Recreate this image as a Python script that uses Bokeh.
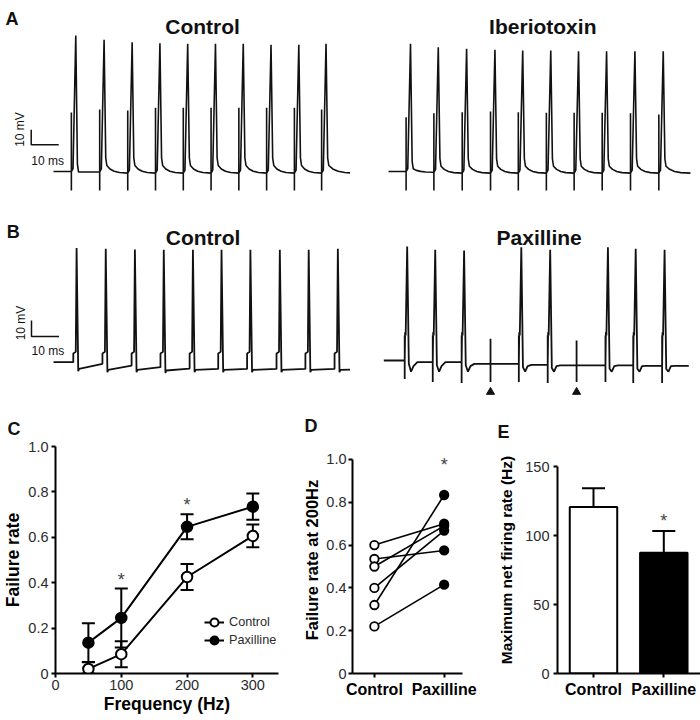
import numpy as np
from bokeh.plotting import figure
from bokeh.layouts import column, row
from bokeh.models import (Label, LabelSet, FixedTicker, ColumnDataSource, Whisker,
                          TeeHead, Legend, LegendItem, Range1d)
from bokeh.embed import file_html
from bokeh.resources import INLINE
from bokeh.core.properties import value

FONT = "Liberation Sans"
INK = "#111111"
TICK_INK = "#2b2b2b"

# ======================= DATA =======================
# Panel A: 100 Hz stimulation, times in ms, potentials in mV
a_ctrl_stim = [6.5, 16.8, 27.0, 37.1, 47.2, 57.3, 67.4, 77.5, 87.6, 97.5]
a_ctrl_peak = [30.7, 27.8, 26.2, 25.5, 25.1, 25.1, 25.1, 24.5, 24.5, 25.1]
a_ctrl_art_top = [-20.7, -18.7, -19.3, -17.5, -17.5, -17.5, -17.5, -17.5, -17.5, -18.7]
a_ctrl_art_bot = [-72.7, -72.7, -72.7, -72.7, -72.7, -72.7, -72.7, -72.7, -72.7, -72.7]
a_ctrl_adp = [-60.3, -56.0, -56.0, -56.0, -56.0, -56.0, -56.0, -56.0, -56.0, -56.0]
a_ctrl_rest = [-60.3, -61.1, -61.1, -61.1, -61.1, -61.1, -61.1, -61.1, -61.1, -61.1]
a_ctrl_v0 = -60.0
a_ctrl_end = 109.8

a_ibtx_stim = [6.4, 16.5, 26.8, 37.1, 47.2, 57.4, 67.5, 77.7, 88.0, 98.3]
a_ibtx_peak = [25.1, 22.9, 21.8, 21.1, 20.7, 20.7, 20.2, 20.2, 20.2, 20.2]
a_ibtx_art_top = [-23.8, -21.1, -20.5, -20.0, -20.5, -20.9, -20.9, -20.9, -21.1, -22.0]
a_ibtx_art_bot = [-72.7, -72.7, -72.7, -72.7, -72.7, -72.7, -72.7, -72.7, -72.7, -72.7]
a_ibtx_adp = [-58.2, -56.5, -56.5, -56.5, -56.5, -56.5, -56.5, -56.5, -56.5, -56.5]
a_ibtx_rest = [-60.5, -61.1, -61.1, -61.1, -61.1, -61.1, -61.1, -61.1, -61.1, -61.1]
a_ibtx_v0 = -60.0
a_ibtx_end = 109.8

# shape of the after-depolarisation decay (fraction of interval, fraction of amplitude)
a_decay_t = [0.15, 0.35, 0.6, 1.0]
a_decay_v = [0.55, 0.25, 0.08, 0.0]

# Panel B control: AP times (ms), peaks, pre-stimulus and post-AP levels (mV)
b_ctrl_ap = [8.4, 19.0, 29.6, 40.1, 50.7, 61.1, 71.6, 82.3, 92.8, 103.4]
b_ctrl_peak = [11.3, 10.9, 10.4, 10.3, 10.3, 10.3, 10.3, 10.3, 10.3, 10.9]
b_ctrl_pre = [-60.0, -61.0, -62.1, -63.1, -64.0, -64.2, -64.2, -64.2, -64.2, -64.2]
b_ctrl_post = [-64.1, -64.8, -64.8, -65.2, -64.8, -64.8, -64.8, -64.8, -64.8, -64.8]
b_ctrl_bump = -54.5
b_ctrl_v0 = -60.0
b_ctrl_final = -64.5
b_ctrl_end = 109.8

# Panel B paxilline: stimulus times, success (1) / failure (0)
b_pax_stim = [7.6, 17.8, 28.3, 38.8, 49.1, 59.6, 70.1, 80.6, 90.7, 101.2]
b_pax_fired = [1, 1, 1, 0, 1, 1, 0, 1, 1, 1]
b_pax_peak = [11.3, 9.2, 8.8, None, 10.8, 9.2, None, 10.8, 9.8, 9.2]
b_pax_art_top = [-44.4, -44.4, -44.4, -46.4, -44.4, -44.4, -47.5, -44.4, -44.4, -44.4]
b_pax_art_bot = [-71.5, -73.5, -74.0, -73.5, -73.5, -74.0, -73.5, -73.5, -74.0, -74.0]
b_pax_rest = [-61.0, -61.0, -62.1, -62.1, -62.7, -63.0, -63.1, -63.1, -63.3, -63.3]
b_pax_dip = -67.0
b_pax_v0 = -60.0
b_pax_end = 110.9
b_pax_arrow_mv = -79.7

scale_ms = 10
scale_mv = 10

# Panel C: failure rate vs frequency
c_freq = [50, 100, 200, 300]
c_ctrl_mean = [0.02, 0.085, 0.425, 0.606]
c_ctrl_err = [0.03, 0.057, 0.057, 0.05]
c_pax_mean = [0.136, 0.245, 0.646, 0.735]
c_pax_err = [0.085, 0.13, 0.055, 0.058]
c_sig_x = [100, 200]
c_sig_y = [0.41, 0.744]
c_xticks = [0, 100, 200, 300]
c_yticks = [0, 0.2, 0.4, 0.6, 0.8, 1.0]
c_ytick_labels = ["0", "0.2", "0.4", "0.6", "0.8", "1.0"]

# Panel D: paired failure rate at 200 Hz
d_groups = ["Control", "Paxilline"]
d_ctrl = [0.60, 0.535, 0.50, 0.40, 0.32, 0.22]
d_pax = [0.70, 0.575, 0.69, 0.668, 0.834, 0.415]
d_sig_y = 0.972

# Panel E: maximum net firing rate
e_groups = ["Control", "Paxilline"]
e_mean = [120.7, 87.5]
e_sem = [13.6, 15.8]
e_sig_y = 110.3
e_yticks = [0, 50, 100, 150]


# ======================= HELPERS =======================
def trace_fig(w, h, xr, yr):
    p = figure(width=w, height=h, x_range=Range1d(*xr), y_range=Range1d(*yr),
               output_backend="svg", toolbar_location=None,
               x_axis_type=None, y_axis_type=None, min_border=0)
    p.outline_line_color = None
    p.grid.visible = False
    return p


def add_text(p, x, y, text, size, bold=False, align="left", baseline="alphabetic",
             angle=0.0, color=INK):
    p.add_layout(Label(x=x, y=y, text=text, text_font=FONT, text_font_size=f"{size}px",
                       text_font_style="bold" if bold else "normal", text_align=align,
                       text_baseline=baseline, angle=angle, text_color=color))


def scale_bar(p, x0, y0):
    p.line([x0, x0, x0 + scale_ms], [y0 + scale_mv, y0, y0], line_color=INK, line_width=1.5)


def build_a(stim, peak, top, bot, adp, rest, v0, t_end):
    t, v = [0.0], [v0]
    base = v0
    for i, ts in enumerate(stim):
        tn = stim[i + 1] if i + 1 < len(stim) else t_end
        t += [ts, ts, ts, ts, ts + 0.6, ts + 1.6, ts + 2.2, ts + 2.6]
        v += [base, top[i], bot[i], base, base + 2.0, peak[i], adp[i] + 5.0, adp[i]]
        t0 = ts + 2.6
        for ft, fv in zip(a_decay_t, a_decay_v):
            t.append(t0 + ft * (tn - t0))
            v.append(rest[i] + fv * (adp[i] - rest[i]))
        base = rest[i]
    return t, v


def build_b_ctrl(ap, peak, pre, post, bump, v0, vend, t_end):
    t, v = [0.0], [v0]
    for i, tp in enumerate(ap):
        t += [tp - 1.2, tp - 1.2, tp - 0.3, tp, tp + 0.6, tp + 0.9]
        v += [pre[i], bump, bump + 1.0, peak[i], post[i] - 1.5, post[i]]
    t.append(t_end)
    v.append(vend)
    return t, v


def build_b_pax(stim, fired, peak, top, bot, rest, dip, v0, t_end):
    t, v = [0.0], [v0]
    base = v0
    for i, ts in enumerate(stim):
        t += [ts, ts, ts, ts]
        v += [base, top[i], bot[i], base]
        if fired[i]:
            t += [ts + 0.15, ts + 0.35, ts + 0.9, ts + 1.5, ts + 2.3, ts + 3.2, ts + 4.6]
            v += [top[i] + 2.0, top[i], peak[i], base - 2.0, dip, dip + 3.5, rest[i]]
        else:
            t += [ts + 0.5]
            v += [rest[i]]
        base = rest[i]
    t.append(t_end)
    v.append(base)
    return t, v


def style_axes(p, label_size, tick_size=14.5):
    for ax in p.axis:
        ax.axis_line_width = 2
        ax.axis_line_color = "black"
        ax.major_tick_line_width = 2
        ax.major_tick_line_color = "black"
        ax.major_tick_out = 4
        ax.major_tick_in = 0
        ax.minor_tick_line_color = None
        ax.major_label_text_font = FONT
        ax.major_label_text_font_size = f"{tick_size}px"
        ax.major_label_text_color = TICK_INK
        ax.major_label_standoff = 3
        ax.axis_label_text_font = FONT
        ax.axis_label_text_font_style = "bold"
        ax.axis_label_text_font_size = f"{label_size}px"
        ax.axis_label_text_color = "black"
        ax.axis_label_standoff = 2
    p.grid.visible = False
    p.outline_line_color = None


def panel_letter(p, letter, offset, standoff):
    p.title.text = letter
    p.title.align = "left"
    p.title.offset = offset
    p.title.standoff = standoff
    p.title.text_font = FONT
    p.title.text_font_size = "18px"
    p.title.text_font_style = "bold"
    p.title.text_color = INK


def stars(p, xs, ys):
    src = ColumnDataSource(dict(x=xs, y=ys, t=["*"] * len(xs)))
    p.add_layout(LabelSet(x="x", y="y", text="t", source=src, text_align="center",
                          text_baseline="middle", text_font=value(FONT),
                          text_font_size=value("18px"), text_color="#444444"))


# ======================= PANEL A =======================
WA, HA = 350, 197
pA1 = trace_fig(WA, HA, (-19.27, 108.0), (-77.33, 54.0))
t, v = build_a(a_ctrl_stim, a_ctrl_peak, a_ctrl_art_top, a_ctrl_art_bot,
               a_ctrl_adp, a_ctrl_rest, a_ctrl_v0, a_ctrl_end)
pA1.line(t, v, line_color=INK, line_width=1.6)
scale_bar(pA1, -8.1, -42.2)
add_text(pA1, -8.1, -52.7, "10 ms", 12)
add_text(pA1, -12.3, -32.0, "10 mV", 12, align="center", baseline="middle", angle=np.pi / 2)
add_text(pA1, -17.45, 42.0, "A", 18, bold=True)
add_text(pA1, 54.2, 36.7, "Control", 21, bold=True, align="center")

pA2 = trace_fig(WA, HA, (-13.82, 113.45), (-77.33, 54.0))
t, v = build_a(a_ibtx_stim, a_ibtx_peak, a_ibtx_art_top, a_ibtx_art_bot,
               a_ibtx_adp, a_ibtx_rest, a_ibtx_v0, a_ibtx_end)
pA2.line(t, v, line_color=INK, line_width=1.6)
add_text(pA2, 56.1, 36.7, "Iberiotoxin", 21, bold=True, align="center")

# ======================= PANEL B =======================
WB, HB = 350, 203
pB1 = trace_fig(WB, HB, (-19.27, 108.0), (-83.94, 42.94))
t, v = build_b_ctrl(b_ctrl_ap, b_ctrl_peak, b_ctrl_pre, b_ctrl_post, b_ctrl_bump,
                    b_ctrl_v0, b_ctrl_final, b_ctrl_end)
pB1.line(t, v, line_color=INK, line_width=1.8)
scale_bar(pB1, -8.0, -43.9)
add_text(pB1, -8.0, -53.1, "10 ms", 12)
add_text(pB1, -11.8, -35.5, "10 mV", 12, align="center", baseline="middle", angle=np.pi / 2)
add_text(pB1, -17.0, 21.25, "B", 18, bold=True)
add_text(pB1, 54.4, 17.75, "Control", 21, bold=True, align="center")

pB2 = trace_fig(WB, HB, (-12.11, 115.16), (-85.0, 41.88))
t, v = build_b_pax(b_pax_stim, b_pax_fired, b_pax_peak, b_pax_art_top, b_pax_art_bot,
                   b_pax_rest, b_pax_dip, b_pax_v0, b_pax_end)
pB2.line(t, v, line_color=INK, line_width=1.8)
fail_t = [ts for ts, f in zip(b_pax_stim, b_pax_fired) if not f]
pB2.scatter(fail_t, [b_pax_arrow_mv] * len(fail_t), marker="triangle", size=8,
            fill_color=INK, line_color=INK)
add_text(pB2, 56.5, 16.7, "Paxilline", 21, bold=True, align="center")

# ======================= BOTTOM ROW (shared frame top/bottom) =======================
HC = 320
TOP, BOT = 46, 47

# ---- Panel C ----
pC = figure(width=300, height=HC, x_range=Range1d(0, 339), y_range=Range1d(0, 1.0),
            output_backend="svg", toolbar_location=None,
            min_border_left=53, min_border_right=22, min_border_top=TOP, min_border_bottom=BOT)
style_axes(pC, 17.5)
pC.xaxis.ticker = FixedTicker(ticks=c_xticks)
pC.yaxis.ticker = FixedTicker(ticks=c_yticks)
pC.yaxis.major_label_overrides = dict(zip(c_yticks, c_ytick_labels))
pC.xaxis.axis_label = "Frequency (Hz)"
pC.yaxis.axis_label = "Failure rate"
pC.xaxis.axis_label_standoff = 1
pC.xaxis.major_label_standoff = 2
panel_letter(pC, "C", -48, 15)

src_c = ColumnDataSource(dict(
    x=c_freq, cm=c_ctrl_mean, pm=c_pax_mean,
    c_lo=[max(m - e, 0) for m, e in zip(c_ctrl_mean, c_ctrl_err)],
    c_hi=[m + e for m, e in zip(c_ctrl_mean, c_ctrl_err)],
    p_lo=[max(m - e, 0) for m, e in zip(c_pax_mean, c_pax_err)],
    p_hi=[m + e for m, e in zip(c_pax_mean, c_pax_err)]))
for lo, hi in (("p_lo", "p_hi"), ("c_lo", "c_hi")):
    pC.add_layout(Whisker(source=src_c, base="x", lower=lo, upper=hi, dimension="height",
                          line_width=2, line_color="black",
                          upper_head=TeeHead(size=13, line_width=2, line_color="black"),
                          lower_head=TeeHead(size=13, line_width=2, line_color="black")))
r_pl = pC.line("x", "pm", source=src_c, line_color="black", line_width=2)
r_cl = pC.line("x", "cm", source=src_c, line_color="black", line_width=2)
r_ps = pC.scatter("x", "pm", source=src_c, size=10.5, fill_color="black",
                  line_color="black", line_width=2)
r_cs = pC.scatter("x", "cm", source=src_c, size=10.5, fill_color="white",
                  line_color="black", line_width=2)
for lab, rends, loc in (("Control", [r_cl, r_cs], (149, 39)),
                        ("Paxilline", [r_pl, r_ps], (149, 21))):
    pC.add_layout(Legend(items=[LegendItem(label=lab, renderers=rends)],
                         location=loc, padding=0, margin=0, spacing=0,
                         glyph_width=20, glyph_height=24, label_height=24, label_standoff=5,
                         label_text_font=FONT, label_text_font_size="12.7px",
                         label_text_color=TICK_INK, border_line_color=None,
                         background_fill_alpha=0))
stars(pC, c_sig_x, c_sig_y)

# ---- Panel D ----
pD = figure(width=180, height=HC, x_range=Range1d(-0.314, 1.263), y_range=Range1d(0, 1.0607),
            output_backend="svg", toolbar_location=None,
            min_border_left=50, min_border_right=18, min_border_top=TOP, min_border_bottom=BOT)
style_axes(pD, 16.5)
pD.yaxis.bounds = (0, 1.0)
pD.xaxis.ticker = FixedTicker(ticks=list(range(len(d_groups))))
pD.xaxis.major_label_overrides = {i: g for i, g in enumerate(d_groups)}
pD.xaxis.major_label_text_font_style = "bold"
pD.xaxis.major_label_text_font_size = "16px"
pD.xaxis.major_label_text_color = "black"
pD.yaxis.ticker = FixedTicker(ticks=c_yticks)
pD.yaxis.major_label_overrides = dict(zip(c_yticks, c_ytick_labels))
pD.yaxis.axis_label = "Failure rate at 200Hz"
pD.yaxis.major_label_standoff = 2
panel_letter(pD, "D", -48, 22)
ci, pi_ = d_groups.index("Control"), d_groups.index("Paxilline")
src_d = ColumnDataSource(dict(x0=[ci] * len(d_ctrl), x1=[pi_] * len(d_pax), y0=d_ctrl, y1=d_pax))
pD.segment(x0="x0", y0="y0", x1="x1", y1="y1", source=src_d, line_color="black", line_width=1.6)
pD.scatter("x1", "y1", source=src_d, size=8.5, fill_color="black", line_color="black", line_width=1.8)
pD.scatter("x0", "y0", source=src_d, size=8.5, fill_color="white", line_color="black", line_width=1.8)
stars(pD, [pi_], [d_sig_y])

# ---- Panel E ----
pE = figure(width=220, height=HC, x_range=Range1d(-0.512, 1.522), y_range=Range1d(0, 164.5),
            output_backend="svg", toolbar_location=None,
            min_border_left=77, min_border_right=0, min_border_top=TOP, min_border_bottom=BOT)
style_axes(pE, 15.5)
pE.yaxis.bounds = (0, 150)
ex = list(range(len(e_groups)))
pE.xaxis.ticker = FixedTicker(ticks=ex)
pE.xaxis.major_label_overrides = {i: g for i, g in enumerate(e_groups)}
pE.xaxis.major_label_text_font_style = "bold"
pE.xaxis.major_label_text_font_size = "16px"
pE.xaxis.major_label_text_color = "black"
pE.yaxis.ticker = FixedTicker(ticks=e_yticks)
pE.yaxis.axis_label = "Maximum net firing rate (Hz)"
pE.yaxis.axis_label_standoff = 7
pE.yaxis.major_label_standoff = 4
panel_letter(pE, "E", -60, 9)
src_e = ColumnDataSource(dict(x=ex, top=e_mean, hi=[m + s for m, s in zip(e_mean, e_sem)],
                              fill=["white", "black"]))
pE.add_layout(Whisker(source=src_e, base="x", lower="top", upper="hi", dimension="height",
                      line_width=2, line_color="black",
                      upper_head=TeeHead(size=23, line_width=2, line_color="black"),
                      lower_head=None))
pE.vbar(x="x", top="top", width=0.675, source=src_e, fill_color="fill",
        line_color="black", line_width=2)
stars(pE, [1], [e_sig_y])

layout = column(row(pA1, pA2), row(pB1, pB2), row(pC, pD, pE))
open("out.html", "w").write(file_html(layout, INLINE))
